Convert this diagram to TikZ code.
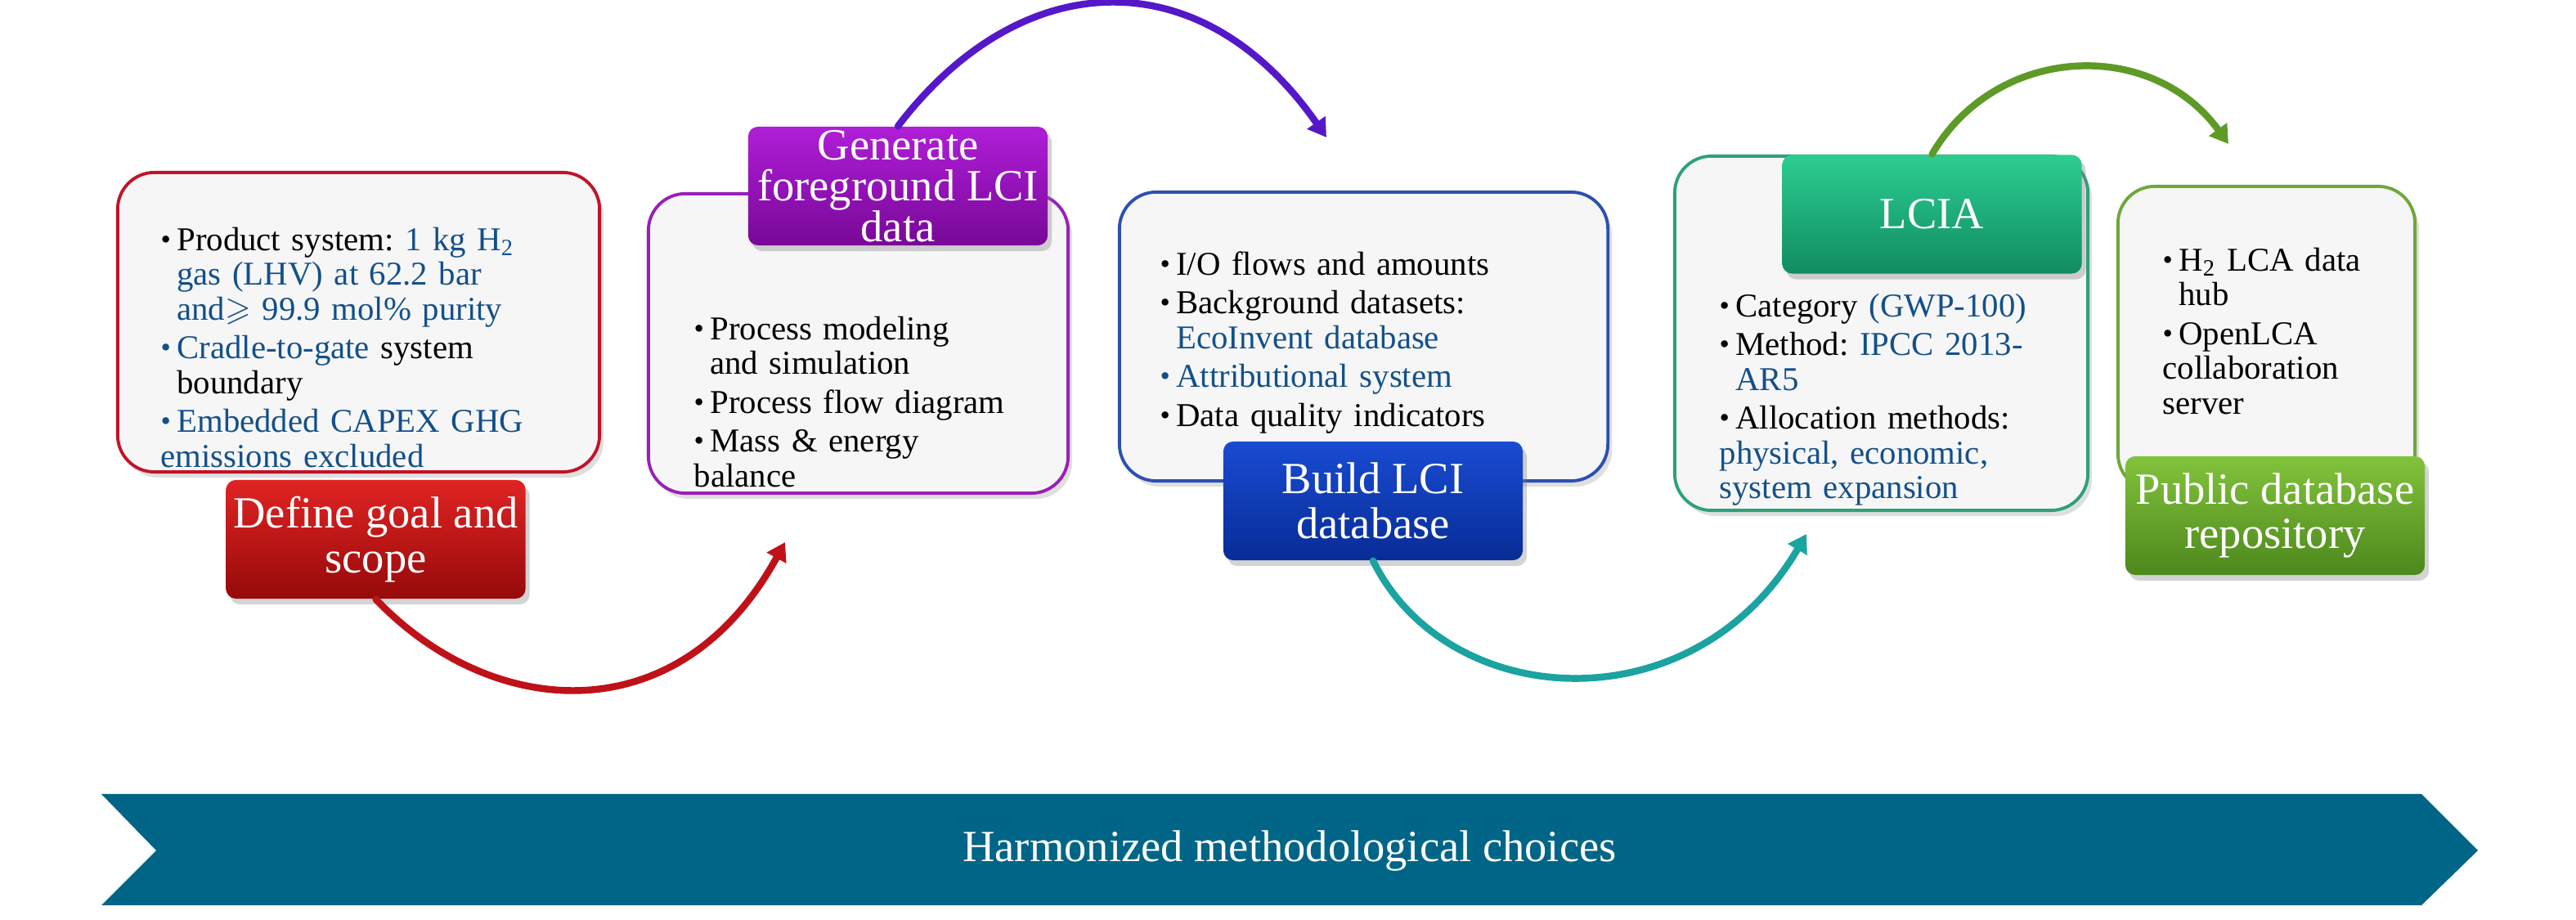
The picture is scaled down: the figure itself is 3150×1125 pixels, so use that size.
\documentclass[tikz,border=0pt]{standalone}
\usepackage{amssymb}
\usepackage{fontspec}
\setmainfont{Liberation Serif}
\usetikzlibrary{arrows.meta,shadows}
\definecolor{boxfill}{HTML}{F6F6F6}
\definecolor{lcablue}{HTML}{13508A}
\definecolor{goalline}{HTML}{C0142A}
\definecolor{genline}{HTML}{9A1FB8}
\definecolor{buildline}{HTML}{2D50B0}
\definecolor{lcialine}{HTML}{2FA07A}
\definecolor{publine}{HTML}{6EA83A}
\definecolor{goalarrow}{HTML}{BE1218}
\definecolor{genarrow}{HTML}{5518C8}
\definecolor{buildarrow}{HTML}{1AA3A0}
\definecolor{lciaarrow}{HTML}{5E9A26}
\definecolor{harmony}{HTML}{006586}
\newcommand{\bitem}[2][black]{\par\hangindent=5.6pt\hangafter=1\noindent\strut\makebox[5.6pt][l]{\textcolor{#1}{\raisebox{0.6pt}{\fontsize{10}{10}\selectfont\textbullet}}}#2}
\begin{document}
\frenchspacing
\begin{tikzpicture}[x=0.01cm, y=-0.01cm, line join=round, line cap=round,
    detail/.style={draw, line width=1.1pt, rounded corners=0.45cm, fill=boxfill, inner sep=0pt,
      drop shadow={opacity=0.25, shadow xshift=0.05cm, shadow yshift=-0.07cm}},
    stage/.style={rounded corners=0.12cm, minimum width=3.66cm, minimum height=1.45cm, inner sep=0pt,
      text=white, align=center, font=\fontsize{15.5}{15.5}\selectfont,
      drop shadow={opacity=0.35, shadow xshift=0.05cm, shadow yshift=-0.07cm}},
    items/.style={anchor=north west, inner sep=0pt, text width=5.2cm, align=left,
      font=\fontsize{11.6}{12.1}\selectfont, execute at begin node={\setlength{\parskip}{1.4pt}}},
    flow/.style={line width=2.4pt, -{Triangle[length=0.22cm,width=0.26cm]}}]
  \useasboundingbox (0,0) rectangle (3150,1125);
  % detail boxes
  \node[detail, draw=goalline, minimum width=5.89cm, minimum height=3.66cm] (goalbox) at (438.5,394) {};
  \node[detail, draw=genline, minimum width=5.13cm, minimum height=3.66cm] (genbox) at (1049.5,420) {};
  \node[detail, draw=buildline, minimum width=5.97cm, minimum height=3.53cm] (buildbox) at (1667.5,411.5) {};
  \node[detail, draw=lcialine, minimum width=5.05cm, minimum height=4.33cm] (lciabox) at (2300.5,407.5) {};
  \node[detail, draw=publine, minimum width=3.63cm, minimum height=3.72cm] (pubbox) at (2771.5,414) {};
  \node[items] (goaltext) at (196,258) {%
    \bitem{Product system: \textcolor{lcablue}{1 kg H\textsubscript{2}\newline gas (LHV) at 62.2 bar\newline and$\geqslant$ 99.9 mol\% purity}}
    \bitem[lcablue]{\textcolor{lcablue}{Cradle-to-gate} system\newline boundary}
    \bitem[lcablue]{\textcolor{lcablue}{Embedded CAPEX GHG\newline emissions excluded}}};
  \node[items] (gentext) at (848,367) {%
    \bitem{Process modeling\newline and simulation}
    \bitem{Process flow diagram}
    \bitem{Mass \& energy\newline balance}};
  \node[items] (buildtext) at (1418,288) {%
    \bitem{I/O flows and amounts}
    \bitem{Background datasets:\newline \textcolor{lcablue}{EcoInvent database}}
    \bitem[lcablue]{\textcolor{lcablue}{Attributional system}}
    \bitem{Data quality indicators}};
  \node[items] (lciatext) at (2102,339) {%
    \bitem{Category \textcolor{lcablue}{(GWP-100)}}
    \bitem{Method: \textcolor{lcablue}{IPCC 2013-\newline AR5}}
    \bitem{Allocation methods:\newline \textcolor{lcablue}{physical, economic,\newline system expansion}}};
  \node[items] (pubtext) at (2644,283) {%
    \bitem{H\textsubscript{2} LCA data\newline hub}
    \bitem{OpenLCA\newline collaboration\newline server}};
  % arrows between stages
  \coordinate (goaltip) at (960,663);
  \coordinate (gentip) at (1622,168);
  \coordinate (buildtip) at (2209,653);
  \coordinate (lciatip) at (2725,176);
  \node[stage, top color={rgb,255:red,225;green,35;blue,35}, middle color={rgb,255:red,190;green,8;blue,8}, bottom color={rgb,255:red,150;green,10;blue,10}] (goal) at (459.5,659.5) {Define goal and\\scope};
  \node[stage, font=\fontsize{15.5}{14.2}\selectfont, top color={rgb,255:red,175;green,30;blue,215}, middle color={rgb,255:red,148;green,6;blue,192}, bottom color={rgb,255:red,120;green,8;blue,152}] (gen) at (1098,227.5) {Generate\\foreground LCI\\data};
  \node[stage, top color={rgb,255:red,25;green,75;blue,210}, middle color={rgb,255:red,8;green,58;blue,188}, bottom color={rgb,255:red,8;green,44;blue,150}] (build) at (1679,612.5) {Build LCI\\database};
  \node[stage, top color={rgb,255:red,45;green,205;blue,145}, middle color={rgb,255:red,23;green,174;blue,120}, bottom color={rgb,255:red,16;green,140;blue,96}] (lcia) at (2362.5,262) {LCIA};
  \node[stage, top color={rgb,255:red,130;green,195;blue,60}, middle color={rgb,255:red,100;green,162;blue,40}, bottom color={rgb,255:red,76;green,136;blue,28}] (pub) at (2782,630.5) {Public database\\repository};
  \draw[flow, goalarrow] (goal.south) .. controls (600,880) and (830,900) .. (goaltip);
  \draw[flow, genarrow] (gen.north) .. controls (1250,-45) and (1470,-50) .. (gentip);
  \draw[flow, buildarrow] (build.south) .. controls (1770,870) and (2070,890) .. (buildtip);
  \draw[flow, lciaarrow] (lcia.north) .. controls (2440,55) and (2630,45) .. (lciatip);
  % bottom band
  \fill[harmony] (124,971) -- (2961,971) -- (3030,1040) -- (2961,1107) -- (124,1107) -- (191,1040) -- cycle;
  \node[text=white, font=\fontsize{15.5}{15.5}\selectfont] (harmtext) at (1577,1040) {Harmonized methodological choices};
\end{tikzpicture}
\end{document}
